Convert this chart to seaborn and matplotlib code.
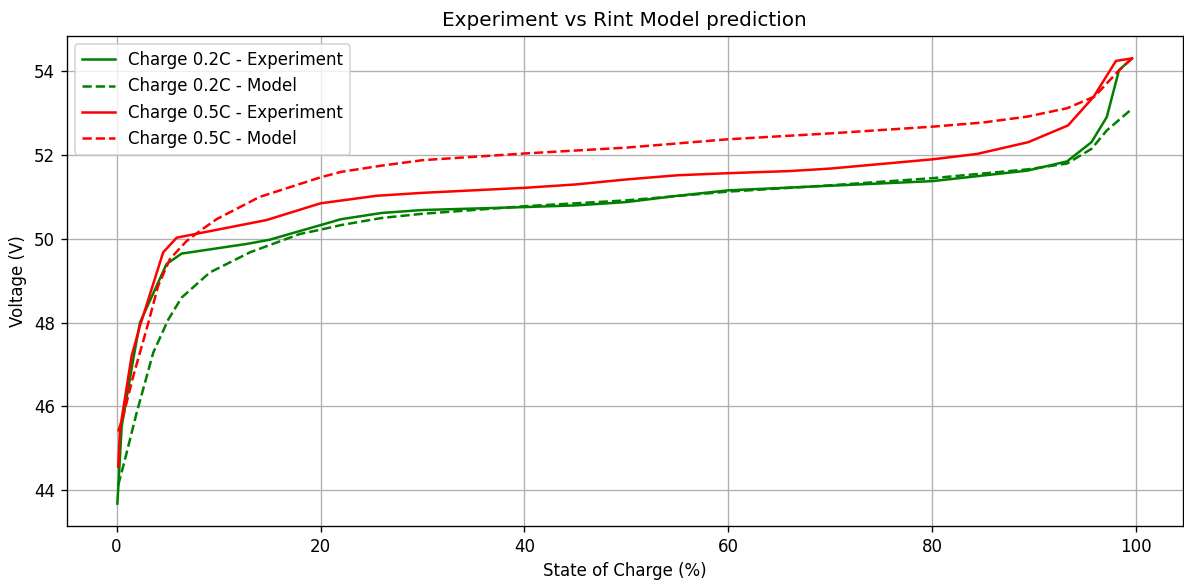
import matplotlib
matplotlib.use("Agg")
import matplotlib.pyplot as plt
import seaborn as sns
import pandas as pd

soc_02_exp = [0.08, 0.5, 1.63, 2.29, 4.9, 6.38, 12.75, 15.0, 20.0, 22.0, 26.0, 30.0, 40.0, 45.0,
              50.0, 55.0, 60.0, 70.0, 80.0, 89.3, 93.2, 95.6, 97.1, 98.3, 99.57]
v_02_exp = [43.68, 45.52, 47.12, 48.0, 49.4, 49.65, 49.88, 49.98, 50.33, 50.47, 50.62, 50.69, 50.76, 50.8,
            50.88, 51.03, 51.16, 51.27, 51.38, 51.63, 51.85, 52.31, 52.91, 54.03, 54.31]

soc_02_mod = [0.16, 0.81, 1.96, 3.59, 5.06, 6.38, 9.15, 13.08, 18.0, 20.0, 22.0, 26.0, 30.0, 40.0,
              50.0, 60.0, 70.0, 80.0, 89.3, 93.2, 95.6, 97.1, 99.4]
v_02_mod = [44.12, 44.72, 45.84, 47.28, 48.07, 48.6, 49.2, 49.68, 50.12, 50.22, 50.33, 50.5, 50.6, 50.78,
            50.92, 51.13, 51.28, 51.45, 51.66, 51.8, 52.15, 52.59, 53.07]

soc_05_exp = [0.16, 0.33, 1.47, 2.29, 4.57, 5.9, 14.7, 20.0, 25.5, 30.0, 40.0, 45.0, 50.0, 55.0,
              60.0, 66.0, 70.0, 80.0, 84.4, 89.4, 93.3, 95.8, 98.0, 99.57]
v_05_exp = [44.56, 45.44, 47.2, 47.92, 49.68, 50.03, 50.45, 50.85, 51.03, 51.1, 51.22, 51.3, 51.42, 51.52,
            51.57, 51.62, 51.68, 51.9, 52.03, 52.31, 52.71, 53.39, 54.25, 54.31]

soc_05_mod = [0.16, 0.64, 1.63, 2.94, 4.08, 5.23, 6.87, 8.17, 9.8, 14.0, 20.0, 22.0, 26.0, 30.0,
              40.0, 50.0, 60.0, 70.0, 80.0, 85.0, 89.3, 93.2, 95.9, 98.2, 99.57]
v_05_mod = [45.4, 45.76, 46.72, 47.84, 48.88, 49.52, 49.95, 50.19, 50.47, 51.0, 51.47, 51.6, 51.75, 51.88,
            52.04, 52.18, 52.38, 52.52, 52.68, 52.78, 52.92, 53.12, 53.4, 54.0, 54.31]

series = [
    ("Charge 0.2C - Experiment", soc_02_exp, v_02_exp, "green", "-"),
    ("Charge 0.2C - Model", soc_02_mod, v_02_mod, "green", "--"),
    ("Charge 0.5C - Experiment", soc_05_exp, v_05_exp, "red", "-"),
    ("Charge 0.5C - Model", soc_05_mod, v_05_mod, "red", "--"),
]

fig, ax = plt.subplots(figsize=(11.84 / 1.2, 5.83 / 1.2), dpi=120)
fig.subplots_adjust(left=0.0563, right=0.9989, top=0.938, bottom=0.098)

for label, xs, ys, color, ls in series:
    df = pd.DataFrame({"soc": xs, "v": ys})
    sns.lineplot(data=df, x="soc", y="v", ax=ax, color=color, linestyle=ls,
                 label=label, sort=False, estimator=None, linewidth=1.5)

ax.set_title("Experiment vs Rint Model prediction")
ax.set_xlabel("State of Charge (%)")
ax.set_ylabel("Voltage (V)")
ax.grid(True)
ax.legend(loc="upper left")

fig.savefig("out.png", dpi=120)
